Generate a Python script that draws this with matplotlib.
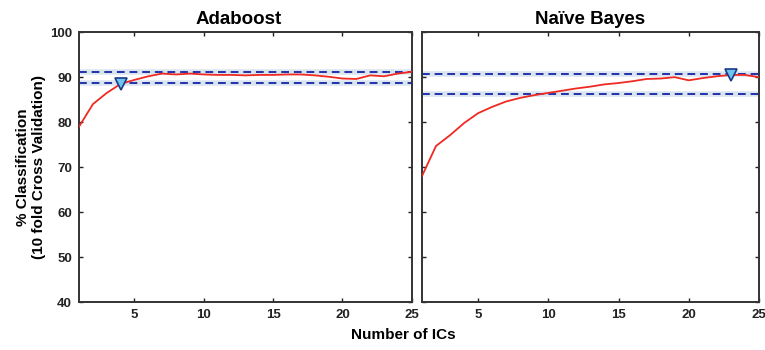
import matplotlib
matplotlib.use('Agg')
import matplotlib.pyplot as plt

# ---------------------------------------------------------------------------
# Datos
# ---------------------------------------------------------------------------
n_ics = list(range(1, 26))

ada_acc = [79.0, 84.0, 86.5, 88.5, 89.4, 90.2, 90.8, 90.6, 90.8, 90.6,
           90.5, 90.5, 90.4, 90.5, 90.5, 90.6, 90.6, 90.4, 90.1, 89.7,
           89.6, 90.4, 90.2, 90.8, 91.2]
ada_bounds = [91.2, 88.7]
ada_best = (4, 88.5)

nb_acc = [68.0, 74.7, 77.1, 79.8, 82.0, 83.4, 84.6, 85.4, 86.0, 86.5,
          87.0, 87.5, 87.9, 88.4, 88.7, 89.1, 89.6, 89.7, 90.0, 89.3,
          89.8, 90.2, 90.5, 90.5, 90.0]
nb_bounds = [90.6, 86.3]
nb_best = (23, 90.5)

titles = ["Adaboost", "Naïve Bayes"]
x_ticks = [5, 10, 15, 20, 25]
y_ticks = [40, 50, 60, 70, 80, 90, 100]

plt.rcParams['font.family'] = ['Liberation Sans', 'DejaVu Sans']
plt.rcParams['font.weight'] = 'bold'

fig = plt.figure(figsize=(7.65, 3.5), dpi=100)
ax1 = fig.add_axes([0.1033, 0.137, 0.435, 0.771])
ax2 = fig.add_axes([0.5516, 0.137, 0.4405, 0.771])

panels = [(ax1, ada_acc, ada_bounds, ada_best),
          (ax2, nb_acc, nb_bounds, nb_best)]

for i, (ax, acc, bounds, best) in enumerate(panels):
    for b in bounds:
        ax.axhline(b, color='#b8cce6', lw=4, alpha=0.5, zorder=1)
        ax.axhline(b, color='#2233aa', lw=1.4, ls=(0, (4, 2.5)), zorder=2)
    ax.plot(n_ics, acc, color='#ee2a22', lw=1.3, zorder=3)
    ax.plot([best[0]], [best[1]], marker='v', ms=9, mfc='#6ec6ee',
            mec='#1a3a8a', mew=1.2, ls='none', zorder=4)
    ax.set_xlim(1, 25)
    ax.set_ylim(40, 100)
    ax.set_xticks(x_ticks)
    ax.set_yticks(y_ticks)
    ax.tick_params(direction='in', top=True, right=True, length=3,
                   width=1, labelsize=9.5, colors='#222222', pad=5)
    for lbl in ax.get_xticklabels() + ax.get_yticklabels():
        lbl.set_fontweight('bold')
    for sp in ax.spines.values():
        sp.set_linewidth(1.4)
        sp.set_color('#333333')
    if i == 1:
        ax.set_yticklabels([])

ax1.set_title(titles[0], fontsize=13.5, fontweight='bold', pad=6, x=0.48)
ax2.set_title(titles[1], fontsize=13.5, fontweight='bold', pad=6)

ax1.set_ylabel("% Classification\n(10 fold Cross Validation)",
               fontsize=11, fontweight='bold', labelpad=3)
fig.text(0.527, 0.043, "Number of ICs", ha='center', va='center',
         fontsize=11, fontweight='bold')

fig.savefig("out.png", dpi=100)
